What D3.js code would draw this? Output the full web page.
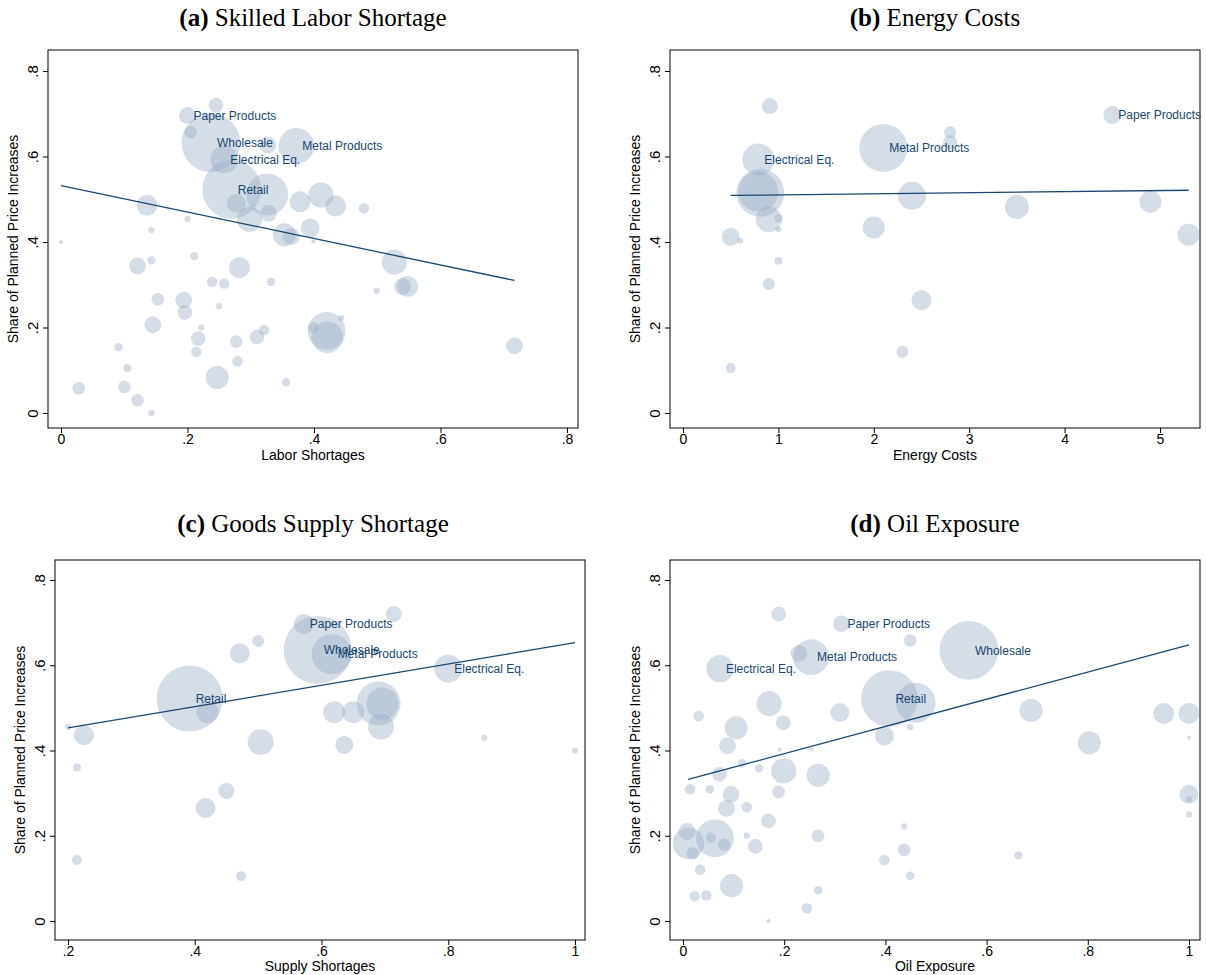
<!DOCTYPE html>
<html><head><meta charset="utf-8">
<script src="https://d3js.org/d3.v7.min.js"></script>
<style>body{margin:0;background:#fff}</style>
</head><body>
<svg id="c" width="1206" height="975"></svg>
<script>
// (a) Skilled Labor Shortage — size = bubble radius estimate
const aX = [.245,.2,.205,.237,.327,.372,.258,.27,.326,.277,.328,.298,.378,.411,.434,.479,.136,.2,.143,0,.353,.364,.394,.399,.527,.548,.54,.499,.121,.143,.211,.282,.239,.258,.332,.153,.194,.196,.145,.25,.222,.217,.214,.277,.31,.321,.279,.42,.421,.399,.443,.717,.091,.105,.028,.1,.121,.143,.247,.356]
const aY = [.72,.696,.657,.632,.627,.625,.593,.523,.511,.49,.467,.453,.494,.51,.484,.479,.486,.454,.428,.4,.417,.413,.433,.401,.353,.296,.296,.286,.344,.357,.367,.34,.307,.303,.307,.266,.264,.235,.206,.25,.2,.174,.143,.167,.178,.194,.121,.192,.177,.2,.222,.157,.154,.105,.058,.061,.03,0,.083,.072]
const aS = [7,8,6,28,8,17,13,28,20,9,8,12,10,12,10,5,10,3,3,2,11,8,9,2,12,10,8,3,8,4,4,10,5,5,4,6,8,7,8,3,3,7,5,6,7,5,5,18,15,5,3,8,4,4,6,6,6,3,11,4]
const aLabels = [[1,'Paper Products'],[3,'Wholesale'],[5,'Metal Products'],[6,'Electrical Eq.'],[7,'Retail']]
const aFit = [[0,.532],[.717,.31]]

// (b) Energy Costs
const bX = [.91,2.8,2.8,4.5,2.1,.79,.81,.79,.9,1.0,1.0,.5,.6,1.0,2.4,3.5,4.9,5.3,2.0,.9,2.5,2.3,.5]
const bY = [.718,.657,.634,.697,.62,.593,.515,.518,.453,.455,.43,.412,.403,.356,.508,.482,.494,.417,.434,.302,.264,.143,.105]
const bS = [8,6,7,9,24,16,24,20,13,4,3,9,3,4,14,12,11,11,11,6,10,6,5]
const bLabels = [[3,'Paper Products'],[4,'Metal Products'],[5,'Electrical Eq.']]
const bFit = [[.5,.509],[5.3,.521]]

// (c) Goods Supply Shortage
const cX = [.714,.572,.594,.616,.5,.471,.8,.392,.42,.69,.696,.62,.65,.694,.504,.636,.225,.2,.214,.857,1.0,.45,.417,.214,.473]
const cY = [.72,.697,.636,.626,.657,.628,.592,.522,.49,.51,.51,.49,.49,.456,.42,.413,.436,.455,.36,.43,.4,.305,.265,.143,.105]
const cS = [8,10,34,20,6,10,14,33,11,22,16,11,11,13,13,9,10,3,4,3,3,8,10,5,5]
const cLabels = [[1,'Paper Products'],[2,'Wholesale'],[3,'Metal Products'],[6,'Electrical Eq.'],[7,'Retail']]
const cFit = [[.2,.453],[1,.653]]

// (d) Oil Exposure
const dX = [.189,.313,.449,.565,.253,.229,.073,.408,.46,.17,.31,.198,.031,.105,.088,.398,.449,.688,.95,1.0,.803,1.0,.191,.254,.117,.15,.199,.267,.072,.014,.053,.095,.189,1.0,1.0,1.0,.126,.086,.169,.008,.011,.063,.055,.081,.019,.126,.143,.267,.437,.437,.398,.663,.034,.449,.096,.023,.046,.267,.245,.169]
const dY = [.72,.697,.658,.635,.619,.628,.592,.522,.512,.51,.489,.465,.481,.453,.411,.434,.455,.494,.487,.487,.418,.43,.402,.402,.37,.358,.352,.342,.344,.309,.309,.297,.303,.297,.286,.25,.267,.264,.235,.21,.182,.194,.196,.179,.159,.2,.175,.2,.222,.167,.143,.154,.12,.106,.083,.058,.06,.072,.03,0]
const dS = [7,8,6,28,17,8,13,27,19,12,9,7,5,11,8,9,3,11,10,10,11,2,2,2,4,4,12,11,7,5,4,8,6,9,3,3,5,8,7,8,15,18,5,6,6,3,7,6,3,6,5,4,5,4,11,5,5,4,5,2]
const dLabels = [[1,'Paper Products'],[3,'Wholesale'],[4,'Metal Products'],[6,'Electrical Eq.'],[7,'Retail']]
const dFit = [[.01,.332],[1,.648]]

const svg = d3.select('#c')
const sans = 'Liberation Sans, Arial, sans-serif'

function panel(o) {
  const g = svg.append('g')
  const x = d3.scaleLinear().domain(o.xd).range(o.xr)
  const y = d3.scaleLinear().domain([0, .8]).range(o.yr)
  const r = d3.scaleLinear().domain([0, 10]).range([0, 10 * o.rk])
  const [L, R, T, B] = o.box
  g.append('rect').attr('x', L).attr('y', T).attr('width', R - L).attr('height', B - T)
    .attr('fill', 'none').attr('stroke', '#000').attr('stroke-width', 1)

  const pts = o.X.map((v, i) => ({ x: v, y: o.Y[i], s: o.S[i] }))
  g.append('g').selectAll('circle').data(pts).join('circle')
    .attr('cx', d => x(d.x)).attr('cy', d => y(d.y)).attr('r', d => r(d.s))
    .attr('fill', 'rgb(155,175,198)').attr('fill-opacity', 0.42)

  g.append('line').attr('x1', x(o.fit[0][0])).attr('y1', y(o.fit[0][1]))
    .attr('x2', x(o.fit[1][0])).attr('y2', y(o.fit[1][1]))
    .attr('stroke', '#1a476f').attr('stroke-width', 1.3)

  g.append('g').selectAll('text').data(o.labels).join('text')
    .attr('x', d => x(o.X[d[0]]) + 6).attr('y', d => y(o.Y[d[0]]))
    .attr('dy', '0.35em').attr('font-family', sans).attr('font-size', 12)
    .attr('fill', '#1a476f').text(d => d[1])

  const xa = g.append('g').attr('transform', `translate(0,${B})`)
    .call(d3.axisBottom(x).tickValues(o.xt).tickFormat(o.xf).tickSize(5).tickSizeOuter(0))
  xa.select('.domain').remove()
  xa.selectAll('text').attr('font-family', sans).attr('font-size', 14).attr('fill', '#000').attr('dy', '0.55em')
  const ya = g.append('g').attr('transform', `translate(${L},0)`)
    .call(d3.axisLeft(y).tickValues([0, .2, .4, .6, .8]).tickFormat(d => d === 0 ? '0' : d3.format('.1f')(d).replace(/^0/, '')).tickSize(5).tickSizeOuter(0))
  ya.select('.domain').remove()
  ya.selectAll('text').attr('font-family', sans).attr('font-size', 15).attr('fill', '#000')
    .attr('transform', 'rotate(-90)').attr('x', 0).attr('y', -10).attr('dy', 0).attr('text-anchor', 'middle')

  g.append('text').attr('x', (L + R) / 2).attr('y', B + o.xtd).attr('text-anchor', 'middle')
    .attr('font-family', sans).attr('font-size', 14).text(o.xt2)
  g.append('text').attr('transform', `translate(${L - 30},${(T + B) / 2}) rotate(-90)`)
    .attr('text-anchor', 'middle').attr('font-family', sans).attr('font-size', 14)
    .text('Share of Planned Price Increases')

  const tt = g.append('text').attr('x', o.tx).attr('y', o.ty).attr('text-anchor', 'middle')
    .attr('font-family', 'Liberation Serif, DejaVu Serif, serif').attr('font-size', 25)
  tt.append('tspan').attr('font-weight', 'bold').text(o.tag)
  tt.append('tspan').text(' ' + o.title)
}

const frac = d => d === 0 ? '0' : (d === 1 ? '1' : d3.format('.1f')(d).replace(/^0/, ''))

panel({ X: aX, Y: aY, S: aS, labels: aLabels, fit: aFit, xd: [0, .8], xr: [61, 567], yr: [413, 71], rk: 1.05,
  box: [48, 578, 50, 428], xt: [0, .2, .4, .6, .8], xf: frac, xt2: 'Labor Shortages', xtd: 32, tx: 313, ty: 26, tag: '(a)', title: 'Skilled Labor Shortage' })
panel({ X: bX, Y: bY, S: bS, labels: bLabels, fit: bFit, xd: [0, 5], xr: [683, 1160], yr: [413, 71], rk: 1,
  box: [670, 1200, 50, 428], xt: [0, 1, 2, 3, 4, 5], xf: d3.format('d'), xt2: 'Energy Costs', xtd: 32, tx: 935, ty: 26, tag: '(b)', title: 'Energy Costs' })
panel({ X: cX, Y: cY, S: cS, labels: cLabels, fit: cFit, xd: [.2, 1], xr: [68, 575], yr: [921, 580], rk: 1,
  box: [55, 585, 560, 940], xt: [.2, .4, .6, .8, 1], xf: frac, xt2: 'Supply Shortages', xtd: 31, tx: 313, ty: 532, tag: '(c)', title: 'Goods Supply Shortage' })
panel({ X: dX, Y: dY, S: dS, labels: dLabels, fit: dFit, xd: [0, 1], xr: [683, 1189], yr: [921, 580], rk: 1.05,
  box: [670, 1200, 560, 940], xt: [0, .2, .4, .6, .8, 1], xf: frac, xt2: 'Oil Exposure', xtd: 31, tx: 935, ty: 532, tag: '(d)', title: 'Oil Exposure' })
</script>
</body></html>
